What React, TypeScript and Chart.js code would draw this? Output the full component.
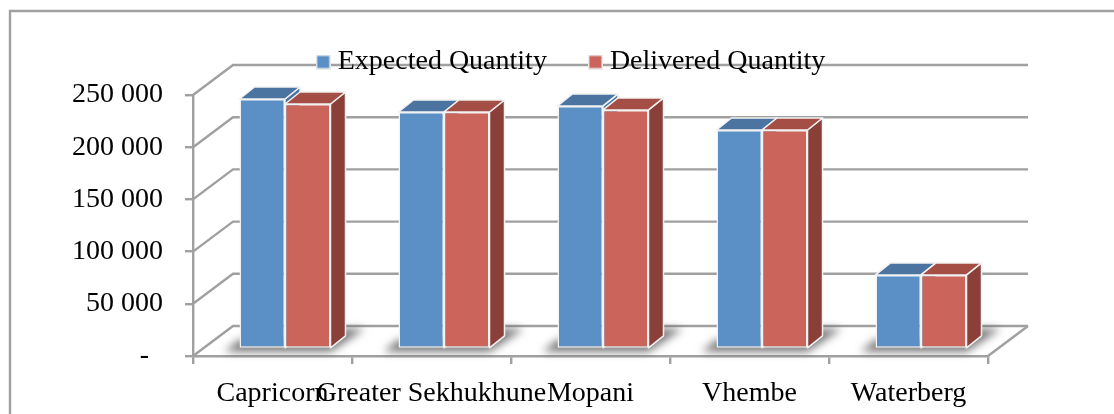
import React, { useEffect, useRef } from "react";
import { Chart, registerables } from "chart.js";

Chart.register(...registerables);

const categories = ["Capricorn", "Greater Sekhukhune", "Mopani", "Vhembe", "Waterberg"];
const expectedQuantity = [239500, 227000, 232800, 209800, 71000];
const deliveredQuantity = [234700, 227000, 229000, 209800, 71000];
const seriesNames = ["Expected Quantity", "Delivered Quantity"];
const FONT = '"Liberation Serif", serif';
const FONT_SIZE = 28;
const GREY = "#a0a0a0";
const FILLS = ["#5b90c6", "#cb645a"];
const TOPS = ["#4b74a1", "#a44e45"];
const SIDES = ["#4b74a1", "#8a3f38"];

function swatch(color: string) {
  const c = document.createElement("canvas");
  c.width = 15;
  c.height = 15;
  const x = c.getContext("2d")!;
  x.fillStyle = "#ececec";
  x.fillRect(0, 0, 15, 15);
  x.fillStyle = color;
  x.fillRect(1.5, 1.5, 12, 12);
  return c;
}

const WALL = { dx: 40, dy: -30 };
const BAR_SHIFT = { dx: 12.5, dy: -7 };
const BAR_DEPTH = { dx: 15, dy: -12 };
const LEGEND_SHIFT = { dx: 80, dy: -9 };

const chart3d = {
  id: "chart3d",
  afterLayout(chart: any) {
    const l = chart.legend;
    l.left += LEGEND_SHIFT.dx;
    l.right += LEGEND_SHIFT.dx;
    l.top += LEGEND_SHIFT.dy;
    l.bottom += LEGEND_SHIFT.dy;
  },
  beforeDraw(chart: any) {
    const { ctx, scales } = chart;
    const y = scales.y;
    const left = scales.x.left;
    const right = scales.x.right;
    const bottom = y.getPixelForValue(0);
    ctx.save();
    ctx.strokeStyle = GREY;
    ctx.lineWidth = 2.4;
    // outer frame
    ctx.beginPath();
    ctx.moveTo(10, 414);
    ctx.lineTo(10, 11);
    ctx.lineTo(1114, 11);
    ctx.stroke();
    // back wall lines and left wall diagonals
    y.ticks.forEach((t: any) => {
      const p = y.getPixelForValue(t.value);
      ctx.beginPath();
      ctx.moveTo(left, p);
      ctx.lineTo(left + WALL.dx, p + WALL.dy);
      ctx.lineTo(right + WALL.dx, p + WALL.dy);
      ctx.stroke();
    });
    // floor right edge
    ctx.beginPath();
    ctx.moveTo(right, bottom);
    ctx.lineTo(right + WALL.dx, bottom + WALL.dy);
    ctx.stroke();
    ctx.restore();
  },
  beforeDatasetsDraw(chart: any) {
    const { ctx } = chart;
    ctx.save();
    ctx.translate(BAR_SHIFT.dx, BAR_SHIFT.dy);
    const a = chart.getDatasetMeta(0).data;
    const b = chart.getDatasetMeta(1).data;
    // floor shadows
    ctx.save();
    ctx.filter = "blur(4px)";
    ctx.fillStyle = "rgba(85,85,85,0.8)";
    a.forEach((bar: any, i: number) => {
      const l = bar.x - bar.width / 2;
      const r = b[i].x + b[i].width / 2;
      const base = bar.base;
      ctx.beginPath();
      ctx.moveTo(l - 15, base + 4);
      ctx.lineTo(r, base + 4);
      ctx.lineTo(r + 34, base - 19);
      ctx.lineTo(r + 8, base - 19);
      ctx.lineTo(r, base - 8);
      ctx.lineTo(l, base - 8);
      ctx.closePath();
      ctx.fill();
    });
    ctx.restore();
    // bar tops and sides
    ctx.strokeStyle = "#f2f2f2";
    ctx.lineWidth = 1.5;
    ctx.lineJoin = "round";
    [a, b].forEach((bars: any[], k: number) => {
      bars.forEach((bar: any) => {
        const l = bar.x - bar.width / 2;
        const r = bar.x + bar.width / 2;
        const { dx, dy } = BAR_DEPTH;
        ctx.fillStyle = SIDES[k];
        ctx.beginPath();
        ctx.moveTo(r, bar.y);
        ctx.lineTo(r + dx, bar.y + dy);
        ctx.lineTo(r + dx, bar.base + dy);
        ctx.lineTo(r, bar.base);
        ctx.closePath();
        ctx.fill();
        ctx.stroke();
        ctx.fillStyle = TOPS[k];
        ctx.beginPath();
        ctx.moveTo(l, bar.y);
        ctx.lineTo(l + dx, bar.y + dy);
        ctx.lineTo(r + dx, bar.y + dy);
        ctx.lineTo(r, bar.y);
        ctx.closePath();
        ctx.fill();
        ctx.stroke();
      });
    });
  },
  afterDatasetsDraw(chart: any) {
    chart.ctx.restore();
  },
};

function formatTick(v: number) {
  if (v === 0) return "-\u00a0\u00a0";
  return `${Math.round(v / 1000)} 000`;
}

export default function App() {
  const ref = useRef<HTMLCanvasElement>(null);
  useEffect(() => {
    document.body.style.margin = "0";
    const chart = new Chart(ref.current!, {
      type: "bar",
      data: {
        labels: categories,
        datasets: [
          { label: seriesNames[0], data: expectedQuantity, backgroundColor: FILLS[0] },
          { label: seriesNames[1], data: deliveredQuantity, backgroundColor: FILLS[1] },
        ],
      },
      plugins: [chart3d],
      options: {
        responsive: false,
        animation: false,
        layout: { padding: { top: 9, right: 126, bottom: 0, left: 0 } },
        datasets: {
          bar: {
            categoryPercentage: 91 / 159,
            barPercentage: 1,
            borderColor: "#f2f2f2",
            borderWidth: 1.5,
            borderSkipped: false,
            clip: false,
          },
        },
        plugins: {
          tooltip: { enabled: false },
          title: { display: false },
          legend: {
            position: "top",
            labels: {
              color: "#000",
              font: { family: FONT, size: FONT_SIZE },
              padding: 48,
              usePointStyle: true,
              pointStyleWidth: 1,
              generateLabels(c: any) {
                return Chart.defaults.plugins.legend.labels.generateLabels(c).map((item: any, i: number) => ({
                  ...item,
                  pointStyle: swatch(FILLS[i]),
                  lineWidth: 0,
                }));
              },
            },
          },
        },
        scales: {
          x: {
            afterFit(s: any) {
              s.height = 58;
            },
            grid: { drawOnChartArea: false, color: GREY, lineWidth: 2.4, tickLength: 8 },
            border: { color: GREY, width: 2.4 },
            ticks: {
              color: "#000",
              font: { family: FONT, size: FONT_SIZE },
              padding: 13,
              maxRotation: 0,
              autoSkip: false,
            },
          },
          y: {
            min: 0,
            max: 250000,
            afterFit(s: any) {
              s.width = 193;
            },
            grid: { drawOnChartArea: false, color: GREY, lineWidth: 2.4, tickLength: 8 },
            border: { color: GREY, width: 2.4 },
            ticks: {
              color: "#000",
              stepSize: 50000,
              font: { family: FONT, size: FONT_SIZE },
              padding: 22,
              callback: (v: any) => formatTick(Number(v)),
            },
          },
        },
      } as any,
    });
    return () => chart.destroy();
  }, []);
  return <canvas ref={ref} width={1114} height={414} style={{ display: "block" }} />;
}
